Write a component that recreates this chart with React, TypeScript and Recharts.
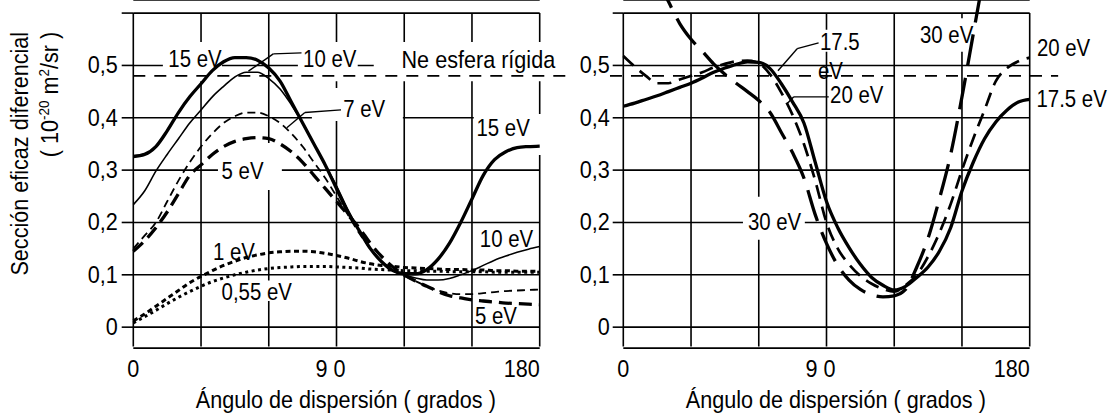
import React from "react";
import {
  LineChart,
  Line,
  XAxis,
  YAxis,
  CartesianGrid,
  ReferenceLine,
  ReferenceArea,
  ReferenceDot,
} from "recharts";

// ángulo de dispersión (grados)
const angulos = [
  0, 5, 10, 15, 20, 25, 30, 35, 40, 45, 50, 55, 60, 65, 70, 75, 80, 85, 90, 95, 100, 105, 110, 115,
  120, 125, 130, 135, 140, 145, 150, 155, 160, 165, 170, 175, 180,
];

// panel izquierdo (10^-20 m2/sr)
const ev15 = [
  0.326, 0.33, 0.345, 0.375, 0.41, 0.44, 0.465, 0.49, 0.507, 0.515, 0.515, 0.51, 0.495, 0.47, 0.43,
  0.39, 0.35, 0.31, 0.265, 0.22, 0.185, 0.15, 0.125, 0.108, 0.102, 0.102, 0.11, 0.13, 0.16, 0.2,
  0.245, 0.29, 0.32, 0.335, 0.343, 0.345, 0.346,
];
const ev10 = [
  0.234, 0.26, 0.298, 0.33, 0.36, 0.39, 0.415, 0.44, 0.46, 0.478, 0.487, 0.487, 0.475, 0.455, 0.425,
  0.39, 0.35, 0.31, 0.27, 0.225, 0.185, 0.15, 0.125, 0.108, 0.1, 0.094, 0.09, 0.09, 0.093, 0.1,
  0.108, 0.118, 0.128, 0.136, 0.143, 0.149, 0.154,
];
const ev7 = [
  0.15, 0.175, 0.2, 0.24, 0.28, 0.315, 0.345, 0.37, 0.39, 0.403, 0.41, 0.41, 0.403, 0.39, 0.37,
  0.345, 0.315, 0.285, 0.25, 0.215, 0.18, 0.15, 0.125, 0.108, 0.098, 0.088, 0.078, 0.07, 0.065,
  0.063, 0.063, 0.065, 0.067, 0.069, 0.07, 0.071, 0.072,
];
const ev5 = [
  0.145, 0.165, 0.19, 0.22, 0.255, 0.29, 0.31, 0.33, 0.345, 0.355, 0.36, 0.362, 0.36, 0.35, 0.335,
  0.315, 0.29, 0.265, 0.24, 0.215, 0.19, 0.16, 0.135, 0.115, 0.1, 0.088, 0.078, 0.068, 0.06, 0.056,
  0.052, 0.05, 0.048, 0.046, 0.045, 0.044, 0.043,
];
const ev1 = [
  0.012, 0.025, 0.04, 0.055, 0.07, 0.085, 0.097, 0.108, 0.118, 0.126, 0.133, 0.138, 0.142, 0.144,
  0.145, 0.145, 0.144, 0.141, 0.137, 0.132, 0.126, 0.121, 0.118, 0.116, 0.114, 0.113, 0.112, 0.111,
  0.11, 0.11, 0.109, 0.109, 0.108, 0.108, 0.107, 0.107, 0.107,
];
const ev055 = [
  0.008, 0.02, 0.032, 0.045, 0.057, 0.068, 0.078, 0.087, 0.094, 0.1, 0.105, 0.109, 0.112, 0.114,
  0.115, 0.116, 0.116, 0.116, 0.115, 0.114, 0.113, 0.111, 0.11, 0.109, 0.108, 0.108, 0.107, 0.107,
  0.106, 0.106, 0.106, 0.106, 0.105, 0.105, 0.105, 0.105, 0.105,
];

// panel derecho
const ev175 = [
  0.422, 0.428, 0.435, 0.442, 0.45, 0.458, 0.466, 0.476, 0.487, 0.495, 0.502, 0.507, 0.506, 0.494,
  0.465, 0.43, 0.39, 0.315, 0.24, 0.19, 0.152, 0.12, 0.095, 0.08, 0.071, 0.078, 0.095, 0.115, 0.145,
  0.19, 0.26, 0.315, 0.36, 0.392, 0.415, 0.43, 0.435,
];
const ev20 = [
  0.518, 0.498, 0.48, 0.466, 0.466, 0.473, 0.48, 0.487, 0.496, 0.503, 0.508, 0.509, 0.504, 0.483,
  0.448, 0.405, 0.35, 0.28, 0.2, 0.15, 0.12, 0.098, 0.083, 0.073, 0.068, 0.08, 0.1, 0.135, 0.18,
  0.235, 0.3, 0.36, 0.415, 0.47, 0.495, 0.508, 0.515,
];
const ev30 = [
  null, null, null, 0.665, 0.622, 0.58, 0.55, 0.527, 0.503, 0.483, 0.466, 0.45, 0.433, 0.41, 0.372,
  0.333, 0.285, 0.215, 0.16, 0.118, 0.09, 0.072, 0.062, 0.058, 0.06, 0.072, 0.115, 0.17, 0.245,
  0.33, 0.44, 0.56, 0.68, null, null, null, null,
];

const esferaRigida = 0.48;

const yTicks = [0, 0.1, 0.2, 0.3, 0.4, 0.5, 0.6];
const yLabels = ["0", "0,1", "0,2", "0,3", "0,4", "0,5", ""];
const xGrid = [0, 30, 60, 90, 120, 150, 180];
const xTicks = [0, 90, 180];
const xLabels = ["0", "9 0", "180"];

// etiquetas (x en grados, y en valor del eje)
const notasIzq = [
  { t: "15 eV", x: 15.5, y: 0.514 },
  { t: "10 eV", x: 75.2, y: 0.514 },
  { t: "Ne esfera rígida", x: 118.8, y: 0.512, ancho: true },
  { t: "7 eV", x: 93, y: 0.417 },
  { t: "5 eV", x: 39.1, y: 0.3 },
  { t: "1 eV", x: 35.3, y: 0.144 },
  { t: "0,55 eV", x: 39.1, y: 0.068 },
  { t: "15 eV", x: 152, y: 0.381 },
  { t: "10 eV", x: 153.5, y: 0.17 },
  { t: "5 eV", x: 151.3, y: 0.022 },
];
const notasDer = [
  { t: "17.5", x: 87.1, y: 0.546 },
  { t: "eV", x: 86.2, y: 0.49 },
  { t: "20 eV", x: 91.6, y: 0.444 },
  { t: "30 eV", x: 55.2, y: 0.202 },
  { t: "30 eV", x: 131.4, y: 0.56 },
  { t: "20 eV", x: 183.2, y: 0.534 },
  { t: "17.5 eV", x: 183, y: 0.436 },
];
// fondos blancos de las etiquetas
const cajasIzq = [
  [13.1, 39.3, 0.47, 0.545],
  [72.9, 99.4, 0.47, 0.545],
  [106.5, 188.9, 0.47, 0.545],
  [79.1, 119.4, 0.394, 0.457],
  [37.5, 65.8, 0.262, 0.352],
  [37.5, 71.6, 0.05, 0.089],
  [150.8, 182.2, 0.329, 0.407],
];
const cajasDer = [
  [86.2, 103.9, 0.526, 0.568],
  [53, 80.4, 0.167, 0.249],
  [129.2, 154.5, 0.526, 0.59],
];
// líneas guía (polilíneas)
const guiasIzq = [
  [[74.5, 0.524], [62, 0.522], [51, 0.489]],
  [[92, 0.415], [76, 0.41], [68, 0.381]],
];
const guiasDer = [
  [[86.5, 0.543], [77, 0.532], [68.5, 0.49]],
  [[91, 0.44], [75.5, 0.44], [72.5, 0.427]],
];

const leftData = angulos.map((a, i) => ({
  a,
  ev15: ev15[i],
  ev10: ev10[i],
  ev7: ev7[i],
  ev5: ev5[i],
  ev1: ev1[i],
  ev055: ev055[i],
}));
const rightData = angulos.map((a, i) => ({ a, ev175: ev175[i], ev20: ev20[i], ev30: ev30[i] }));

const FONT = "'Liberation Sans', Arial, Helvetica, sans-serif";
const NEGRO = "#000";

function Txt({ x, y, anchor = "start", size = 24, rot = 0, sx = 0.9, children }: any) {
  return (
    <text
      transform={`translate(${x} ${y}) rotate(${rot}) scale(${sx} 1)`}
      textAnchor={anchor}
      fontFamily={FONT}
      fontSize={size}
      fill={NEGRO}
    >
      {children}
    </text>
  );
}

const YTick = (p: any) => {
  const i = yTicks.indexOf(p.payload.value);
  return (
    <Txt x={p.x} y={p.y + 8} anchor="end">
      {yLabels[i]}
    </Txt>
  );
};

const XTick = (p: any) => {
  const i = xTicks.indexOf(p.payload.value);
  const anchor = i === 2 ? "end" : "middle";
  const dx = i === 1 ? -6 : 0;
  return (
    <Txt x={p.x + dx} y={p.y + 20.5} anchor={anchor}>
      {xLabels[i]}
    </Txt>
  );
};

function panelBase(cajas: number[][], rigidFrom: number, rigidTo: number) {
  return [
    ...xGrid.map((g) => (
      <ReferenceLine
        key={"v" + g}
        segment={[
          { x: g, y: -0.037 },
          { x: g, y: 0.6 },
        ]}
        stroke={NEGRO}
        strokeWidth={1.6}
        ifOverflow="visible"
        zIndex={-90}
      />
    )),
    ...cajas.map((c, i) => (
      <ReferenceArea
        key={"c" + i}
        x1={c[0]}
        x2={c[1]}
        y1={c[2]}
        y2={c[3]}
        fill="#fff"
        fillOpacity={1}
        stroke="none"
        ifOverflow="visible"
        zIndex={-50}
      />
    )),
    <ReferenceLine
      key="rigida"
      segment={[
        { x: rigidFrom, y: esferaRigida },
        { x: rigidTo, y: esferaRigida },
      ]}
      stroke={NEGRO}
      strokeWidth={1.7}
      strokeDasharray="12 9"
      ifOverflow="visible"
    />,
  ];
}

function guias(lista: number[][][]) {
  const out: any[] = [];
  lista.forEach((g, i) => {
    for (let k = 0; k < g.length - 1; k++) {
      out.push(
        <ReferenceLine
          key={"g" + i + "_" + k}
          segment={[
            { x: g[k][0], y: g[k][1] },
            { x: g[k + 1][0], y: g[k + 1][1] },
          ]}
          stroke={NEGRO}
          strokeWidth={1.4}
          ifOverflow="visible"
        />
      );
    }
  });
  return out;
}

function notas(lista: { t: string; x: number; y: number; ancho?: boolean }[]) {
  return lista.map((n, i) => (
    <ReferenceDot
      key={"n" + i}
      x={n.x}
      y={n.y}
      r={0}
      ifOverflow="visible"
      zIndex={2000}
      shape={(p: any) => (
        <Txt x={p.cx} y={p.cy + 8.5} sx={n.ancho ? 0.9 : 0.85}>
          {n.t}
        </Txt>
      )}
    />
  ));
}

const tituloX = (
  <ReferenceDot
    x={90}
    y={0}
    r={0}
    ifOverflow="visible"
    zIndex={2000}
    shape={(p: any) => (
      <Txt x={p.cx + 9.3} y={p.cy + 81} anchor="middle">
        Ángulo de dispersión ( grados )
      </Txt>
    )}
  />
);

const ejes = (tickSize: number, tickMargin: number) => [
  <XAxis
    key="x"
    type="number"
    dataKey="a"
    domain={[0, 180]}
    ticks={xTicks}
    interval={0}
    height={50}
    axisLine={false}
    tickLine={false}
    tickSize={6}
    tickMargin={2}
    tick={XTick}
  />,
  <YAxis
    key="y"
    type="number"
    domain={[-0.04, 0.625]}
    allowDataOverflow
    ticks={yTicks}
    interval={0}
    width={40}
    axisLine={false}
    tickSize={tickSize}
    tickMargin={tickMargin}
    tickLine={{ stroke: NEGRO, strokeWidth: 1.6 }}
    tick={YTick}
  />,
];

export default function App() {
  return (
    <div style={{ position: "absolute", left: 0, top: 0, width: 1108, height: 415, background: "#fff" }}>
      <div style={{ position: "absolute", left: 0, top: 0 }}>
        <LineChart width={580} height={415} data={leftData} margin={{ top: 0, right: 40.3, bottom: 16.9, left: 93.3 }}>
          <CartesianGrid vertical={false} stroke={NEGRO} strokeWidth={1.6} />
          {ejes(11.6, 4)}
          {panelBase(cajasIzq, 0, 191.8)}
          {guias(guiasIzq)}
          <Line type="monotone" dataKey="ev15" stroke={NEGRO} strokeWidth={3.3} dot={false} isAnimationActive={false} />
          <Line type="monotone" dataKey="ev10" stroke={NEGRO} strokeWidth={1.6} dot={false} isAnimationActive={false} />
          <Line type="monotone" dataKey="ev7" stroke={NEGRO} strokeWidth={1.8} strokeDasharray="8 5" dot={false} isAnimationActive={false} />
          <Line type="monotone" dataKey="ev5" stroke={NEGRO} strokeWidth={3.3} strokeDasharray="13 7" dot={false} isAnimationActive={false} />
          <Line type="monotone" dataKey="ev1" stroke={NEGRO} strokeWidth={3} strokeDasharray="5 3.5" dot={false} isAnimationActive={false} />
          <Line type="monotone" dataKey="ev055" stroke={NEGRO} strokeWidth={3} strokeDasharray="3 3.5" dot={false} isAnimationActive={false} />
          {notas(notasIzq)}
          {tituloX}
          <ReferenceDot
            x={0}
            y={0.6}
            r={0}
            ifOverflow="visible"
            zIndex={2000}
            shape={(p: any) => (
              <g>
                <Txt x={p.cx - 105.3} y={p.cy + 18.8} anchor="end" rot={-90}>
                  Sección eficaz diferencial
                </Txt>
                <Txt x={p.cx - 75.3} y={p.cy + 18.8} anchor="end" rot={-90}>
                  {"( 10"}
                  <tspan dy={-9} fontSize={15}>
                    -20
                  </tspan>
                  <tspan dy={9}> m</tspan>
                  <tspan dy={-9} fontSize={15}>
                    2
                  </tspan>
                  <tspan dy={9}>/sr )</tspan>
                </Txt>
              </g>
            )}
          />
        </LineChart>
      </div>
      <div style={{ position: "absolute", left: 560, top: 0 }}>
        <LineChart width={548} height={415} data={rightData} margin={{ top: 0, right: 78.3, bottom: 16.9, left: 23.3 }}>
          <CartesianGrid vertical={false} stroke={NEGRO} strokeWidth={1.6} />
          {ejes(10.6, 3)}
          {panelBase(cajasDer, -5.9, 192.6)}
          {guias(guiasDer)}
          <Line type="monotone" dataKey="ev175" stroke={NEGRO} strokeWidth={3.3} dot={false} isAnimationActive={false} />
          <Line type="monotone" dataKey="ev20" stroke={NEGRO} strokeWidth={2.7} strokeDasharray="14 8" dot={false} isAnimationActive={false} />
          <Line type="monotone" dataKey="ev30" stroke={NEGRO} strokeWidth={3.3} strokeDasharray="32 12" dot={false} isAnimationActive={false} />
          {notas(notasDer)}
          {tituloX}
        </LineChart>
      </div>
    </div>
  );
}
